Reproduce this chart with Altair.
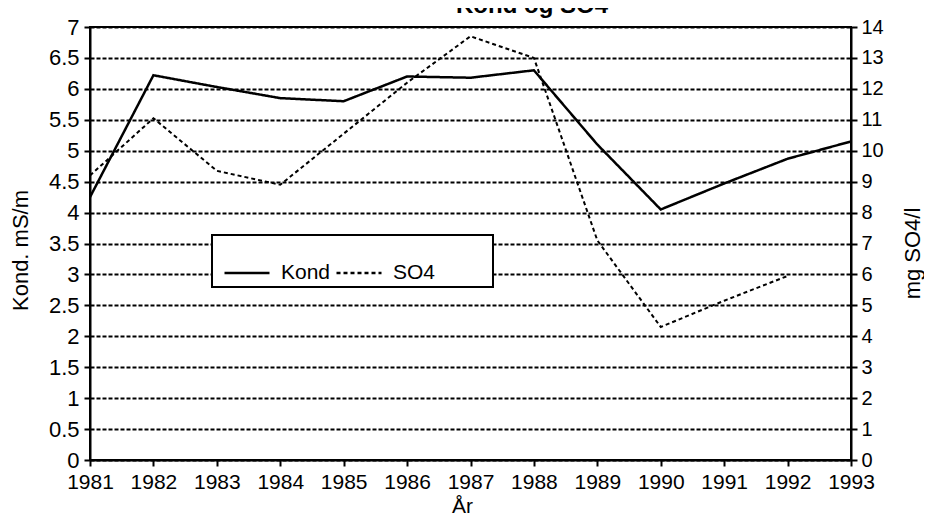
import altair as alt
import pandas as pd

# ---- data ----
years = list(range(1981, 1994))
kond = [4.25, 6.22, 6.03, 5.85, 5.80, 6.20, 6.18, 6.30, 5.10, 4.05, 4.47, 4.87, 5.15]
so4_years = list(range(1981, 1993))
so4 = [9.2, 11.05, 9.35, 8.9, 10.55, 12.2, 13.7, 13.0, 7.1, 4.3, 5.15, 5.95]
series = ["Kond", "SO4"]
left_ticks = [i * 0.5 for i in range(15)]
right_ticks = list(range(15))
title_text = "Kond og SO4"

kdf = pd.DataFrame({"year": years, "value": kond, "series": series[0]})
sdf = pd.DataFrame({"year": so4_years, "value": so4, "series": series[1]})

FONT = "Liberation Sans, Arial, Helvetica, sans-serif"

x = alt.X(
    "year:Q",
    scale=alt.Scale(domain=[years[0], years[-1]], nice=False, zero=False),
    axis=alt.Axis(
        values=years, format="d", title="År", grid=False,
        labelFontSize=21, labelFont=FONT, labelColor="black", labelPadding=5,
        labelOverlap=False, labelFlush=False,
        tickSize=6, tickWidth=2, tickColor="black",
        domainColor="black", domainWidth=2,
        titleFont=FONT, titleFontSize=21, titleFontWeight="normal", titleColor="black",
        titleX=372, titleY=52, titleBaseline="alphabetic", titleAlign="center",
    ),
)

dash = alt.StrokeDash(
    "series:N",
    scale=alt.Scale(domain=series, range=[[1, 0], [4, 3]]),
    legend=alt.Legend(
        title=None, orient="none", legendX=133, legendY=222, direction="horizontal",
        symbolType="stroke", symbolSize=2025, symbolStrokeWidth=2.5,
        symbolStrokeColor="black", labelFont=FONT, labelFontSize=21,
        labelColor="black", labelOffset=10, columnPadding=0, padding=0,
        zindex=2,
    ),
)

kline = alt.Chart(kdf).mark_line(color="black", strokeWidth=2.5).encode(
    x=x,
    y=alt.Y(
        "value:Q",
        scale=alt.Scale(domain=[0, 7], nice=False, zero=True),
        axis=alt.Axis(
            values=left_ticks, format=".1~f", title="Kond. mS/m",
            grid=True, gridDash=[4, 2], gridColor="black", gridWidth=2, gridOpacity=1,
            labelFontSize=22, labelFont=FONT, labelColor="black", labelPadding=5,
            tickSize=6, tickWidth=2, tickColor="black",
            domainColor="black", domainWidth=2,
            titleFont=FONT, titleFontSize=22, titleFontWeight="normal", titleColor="black",
            titleX=-70, titleY=223, titleAngle=270, titleBaseline="middle", titleAlign="center",
        ),
    ),
    strokeDash=dash,
)

sline = alt.Chart(sdf).mark_line(color="black", strokeWidth=2).encode(
    x=x,
    y=alt.Y(
        "value:Q",
        scale=alt.Scale(domain=[0, 14], nice=False, zero=True),
        axis=alt.Axis(
            orient="right", values=right_ticks, format="d", title="mg SO4/l", grid=False,
            labelFontSize=20, labelFont=FONT, labelColor="black", labelPadding=4,
            tickSize=6, tickWidth=2, tickColor="black",
            domainColor="black", domainWidth=2,
            titleFont=FONT, titleFontSize=22, titleFontWeight="normal", titleColor="black",
            titleX=61, titleY=226, titleAngle=270, titleBaseline="middle", titleAlign="center",
        ),
    ),
    strokeDash=dash,
)

one = pd.DataFrame({"t": [title_text]})

legend_box = alt.Chart(one).mark_rect(fill="white", stroke="black", strokeWidth=2).encode(
    x=alt.value(122), x2=alt.value(403), y=alt.value(208), y2=alt.value(260)
)

title = alt.Chart(one).mark_text(
    font=FONT, fontSize=24, fontWeight="bold", align="center", baseline="alphabetic", color="black"
).encode(x=alt.value(442), y=alt.value(-14), text="t:N")

chart = (
    alt.layer(kline, sline, legend_box, title)
    .resolve_scale(y="independent")
    .properties(
        width=761, height=433,
        autosize=alt.AutoSizeParams(type="none"),
        padding={"left": 82, "top": 19, "right": 73, "bottom": 56},
        background="white",
    )
    .configure_view(stroke="black", strokeWidth=2)
)

chart.save("out.html", embed_options={"renderer": "svg", "actions": False})
